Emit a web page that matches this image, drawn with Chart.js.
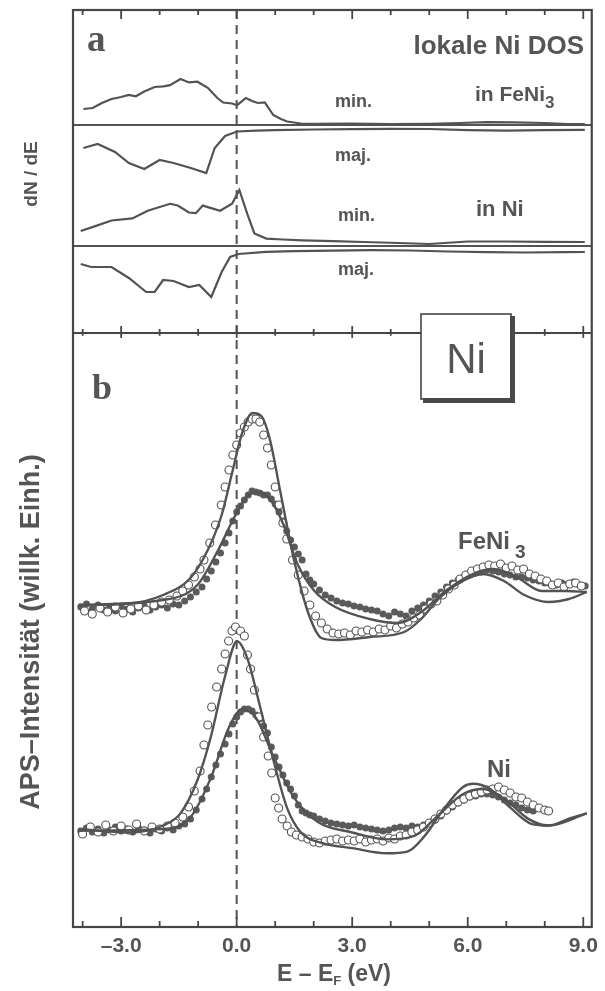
<!DOCTYPE html>
<html><head><meta charset="utf-8">
<script src="https://cdn.jsdelivr.net/npm/chart.js@4.4.0/dist/chart.umd.min.js"></script>
<style>html,body{margin:0;padding:0;background:#fff;}canvas{display:block;}</style>
</head><body>
<canvas id="c" width="605" height="991"></canvas>
<script>
// ---------- x axis ----------
const X_MIN = -4.25, X_MAX = 9.22;
const TICK_LABELS = [-3, 0, 3, 6, 9];
const TICK_MINOR = [-4, -2, -1, 1, 2, 4, 5, 7, 8];

// ---------- panel a : local Ni DOS (relative heights, arb. units) ----------
const aFeMinE = [-3.98,-3.74,-3.5,-3.25,-3.0,-2.8,-2.62,-2.4,-2.13,-1.9,-1.73,-1.46,-1.24,-1.02,-0.75,-0.5,-0.35,-0.12,0.01,0.24,0.4,0.55,0.73,0.95,1.15,1.31,1.67,2.0,3.0,4.0,5.0,5.8,6.5,7.2,8.0,8.6,9.04];
const aFeMinV = [16,17,22,26,28,30,28.7,33.5,38,38.7,39.8,46,42.6,43.3,37.2,27,22.5,21.5,19.8,27,24,22,22.5,10,6,3.5,1.5,1.2,1.5,1,1.2,2,2.8,2.6,2,1,1];
const aFeMajE = [-3.98,-3.61,-3.16,-2.8,-2.4,-2.0,-1.64,-1.19,-0.79,-0.57,-0.30,0.01,0.5,1.0,2.0,3.0,4.0,5.0,6.0,7.0,8.0,9.04];
const aFeMajV = [23,19,27,38,44,35,38,43,48,23,11,6.5,5.6,5.2,4.5,4.2,3.8,4,5.2,5.6,5.2,4.8];
const aNiMinE = [-4.05,-3.69,-3.25,-2.71,-2.31,-1.73,-1.53,-1.24,-1.06,-0.88,-0.43,-0.12,0.07,0.28,0.46,0.77,1.2,1.7,2.5,3.3,4.2,5.0,6.0,7.0,8.0,9.04];
const aNiMinV = [15,19.6,25.5,27.6,35.2,42.2,40.5,33.5,32.8,40.4,35.2,42.2,56,31.7,12.6,7.4,6.5,5.6,4.8,4,3,2,4.5,4.5,4.2,4];
const aNiMajE = [-4.05,-3.78,-3.25,-2.80,-2.35,-2.13,-1.91,-1.64,-1.24,-0.97,-0.66,-0.39,-0.17,0.05,0.76,1.5,2.5,3.5,4.5,5.5,6.5,7.5,8.5,9.04];
const aNiMajV = [18,21,21,32,46,46,34,35,41,39,51,26,11,8,5.8,5.2,4.6,4.2,4.5,5.5,6.2,6.5,6.2,6];

// ---------- panel b : APS spectra FeNi3 ----------
const bFeThOpenE = [-4.1,-2.8,-1.91,-1.2,-0.75,-0.39,-0.12,0.15,0.41,0.64,0.86,1.13,1.49,1.85,2.2,2.56,3.45,4.35,4.79,5.24,5.87,6.4,6.94,7.47,8.1,8.63,9.09];
const bFeThOpenV = [0,1.5,10,27,55,90,132,173,192,189,166,114,45,-7,-33,-35,-32,-27,-14,6,24,31,24,10,3,6,13];
const bFeThFillE = [-4.1,-1.91,-1.02,-0.48,-0.03,0.28,0.55,0.86,1.22,1.58,2.02,2.56,3.45,4.17,4.79,5.42,6.13,6.67,7.3,7.92,8.55,9.09];
const bFeThFillV = [0,5,20,55,90,109,113,106,80,41,14,-2,-14,-18,-7,14,31,36,27,14,14,13];
const bFeOpenE = [-3.95,-3.75,-3.55,-3.35,-3.15,-2.95,-2.75,-2.55,-2.35,-2.15,-1.95,-1.75,-1.55,-1.4,-1.25,-1.1,-0.95,-0.85,-0.7,-0.55,-0.4,-0.3,-0.2,-0.1,0.0,0.1,0.2,0.3,0.4,0.5,0.6,0.7,0.8,0.9,1.0,1.1,1.2,1.3,1.45,1.6,1.75,1.9,2.05,2.2,2.35,2.5,2.65,2.8,2.95,3.1,3.25,3.4,3.55,3.7,3.85,4.0,4.15,4.3,4.45,4.6,4.75,4.9,5.05,5.2,5.35,5.5,5.65,5.8,5.95,6.1,6.25,6.4,6.55,6.7,6.85,7.0,7.15,7.3,7.45,7.6,7.75,7.9,8.05,8.2,8.35,8.5,8.65,8.8,8.95];
const bFeOpenV = [-6,-9,-3,-7,-2,-8,-4,-1,-5,0,3,5,9,14,20,28,36,45,62,80,100,118,135,150,160,172,178,183,186,186,183,170,157,140,118,100,82,66,45,30,14,0,-11,-18,-24,-28,-29,-28,-30,-26,-27,-25,-27,-24,-25,-21,-23,-19,-17,-13,-10,-4,1,4,10,16,20,26,30,34,36,38,40,39,41,37,39,35,36,31,29,26,24,20,22,18,21,22,19];
const bFeFillE = [-4.05,-3.9,-3.75,-3.6,-3.45,-3.3,-3.15,-3.0,-2.85,-2.7,-2.55,-2.4,-2.25,-2.1,-1.95,-1.8,-1.65,-1.5,-1.35,-1.2,-1.05,-0.9,-0.78,-0.66,-0.54,-0.42,-0.3,-0.2,-0.1,0.0,0.1,0.2,0.3,0.4,0.5,0.6,0.7,0.8,0.9,1.0,1.1,1.2,1.3,1.4,1.5,1.6,1.7,1.8,1.9,2.0,2.15,2.3,2.45,2.6,2.75,2.9,3.05,3.2,3.35,3.5,3.65,3.8,3.95,4.1,4.25,4.4,4.55,4.7,4.85,5.0,5.15,5.3,5.45,5.6,5.75,5.9,6.05,6.2,6.35,6.5,6.65,6.8,6.95,7.1,7.25,7.4,7.55,7.7,7.85,8.0,8.15,8.3,8.45,8.6,8.75,8.9,9.05];
const bFeFillV = [-2,1,-4,0,-5,-2,-6,-1,-4,-7,-3,-1,-5,-2,0,-3,1,0,4,8,13,18,26,34,43,52,62,72,84,93,99,105,110,114,113,112,110,110,106,101,93,84,74,65,58,51,45,31,25,21,15,10,7,4,2,1,-1,-2,-4,-5,-6,-9,-11,-7,-9,-11,-6,-3,0,4,9,13,18,22,25,28,30,32,33,35,34,33,31,30,28,28,27,25,24,22,21,20,22,21,23,20,19];

// ---------- panel b : APS spectra Ni ----------
const bNiThOpenE = [-4.1,-2.8,-1.91,-1.46,-1.02,-0.66,-0.30,0.01,0.28,0.59,0.95,1.31,1.67,2.2,3.0,3.9,4.43,4.88,5.33,5.87,6.13,6.58,7.12,7.65,8.1,8.63,9.09];
const bNiThOpenV = [0,-3.5,3.5,15.6,48.7,93.8,153,187.7,170.3,125,69.5,20.9,-3.5,-13.9,-19.1,-24.3,-22.6,-7,17.4,41.7,45.2,40,20.9,5.2,3.5,10.4,15.6];
const bNiThFillE = [-4.1,-1.91,-1.19,-0.66,-0.21,0.15,0.50,0.95,1.49,2.11,3.0,3.9,4.61,5.24,5.87,6.4,7.03,7.56,8.1,9.09];
const bNiThFillV = [-1.7,0,12.2,52.1,100.8,119.9,111.2,73,31.3,7,-3.5,-10.4,-7,13.9,34.8,40,27.8,10.4,3.5,15.6];
const bNiOpenE = [-4.0,-3.8,-3.6,-3.4,-3.2,-3.0,-2.8,-2.6,-2.4,-2.2,-2.0,-1.8,-1.6,-1.4,-1.25,-1.1,-0.95,-0.85,-0.75,-0.65,-0.52,-0.39,-0.3,-0.21,-0.12,-0.03,0.1,0.2,0.28,0.36,0.46,0.58,0.7,0.82,0.91,1.0,1.09,1.18,1.31,1.42,1.55,1.7,1.85,2.0,2.15,2.3,2.45,2.6,2.75,2.9,3.05,3.2,3.35,3.5,3.65,3.8,3.95,4.1,4.25,4.4,4.55,4.7,4.85,5.0,5.15,5.3,5.45,5.6,5.75,5.9,6.05,6.2,6.35,6.5,6.65,6.8,6.95,7.1,7.25,7.4,7.55,7.7,7.85,8.0,8.1];
const bNiOpenV = [-5,2,-3,4,-2,3,-1,5,-2,2,0,3,6,12,22,38,58,84,104,122,142,160,175,188,198,202,198,193,174,160,139,112,92,73,56,31,21,10,3,-3,-6,-8,-10,-13,-14,-12,-11,-10,-12,-11,-12,-10,-13,-11,-10,-12,-9,-10,-7,-6,-3,-1,2,6,10,15,19,24,27,30,33,35,37,39,40,42,39,36,32,31,27,24,21,19,18];
const bNiFillE = [-4.05,-3.9,-3.75,-3.6,-3.45,-3.3,-3.15,-3.0,-2.85,-2.7,-2.55,-2.4,-2.25,-2.1,-1.95,-1.8,-1.65,-1.5,-1.35,-1.2,-1.05,-0.9,-0.78,-0.66,-0.54,-0.42,-0.3,-0.2,-0.1,0.0,0.1,0.2,0.3,0.4,0.5,0.6,0.7,0.8,0.9,1.0,1.1,1.2,1.3,1.4,1.5,1.6,1.7,1.8,1.9,2.0,2.15,2.3,2.45,2.6,2.75,2.9,3.05,3.2,3.35,3.5,3.65,3.8,3.95,4.1,4.25,4.4,4.55,4.7,4.85,5.0,5.15,5.3,5.45,5.6,5.75,5.9,6.05,6.2,6.35,6.5,6.65,6.8,6.95,7.1,7.25,7.4,7.55,7.7];
const bNiFillV = [-2,1,-3,0,-4,-1,2,-2,0,-3,1,-1,-4,0,-2,1,-1,3,5,10,19,30,40,52,64,75,85,95,105,112,117,120,120,118,114,110,103,96,82,72,62,54,46,40,33,24,18,16,14,13,10,8,6,5,4,3,4,2,1,0,-1,-2,-1,1,2,1,3,2,4,6,9,13,18,22,26,29,32,33,35,35,34,32,29,26,24,21,19,18];

// ---------- vertical placement of the stacked curves (value units) ----------
const OFF_A_FE = 802, OFF_A_NI = 681, SEP = 594, OFF_B_FE = 322, OFF_B_NI = 98;

const INK = '#535353', FRAME = '#464646', TXT = '#555555';
const SANS = '"Liberation Sans", Arial, Helvetica, sans-serif';
const SERIF = '"Liberation Serif", "Times New Roman", serif';

const xy = (E, V, off, s) => E.map((e, i) => ({x: e, y: off + s * V[i]}));
const curve = (data, extra) => Object.assign({type: 'line', data, borderColor: INK, borderWidth: 2.2, pointRadius: 0, fill: false, tension: 0, order: 1}, extra || {});
const smooth = {cubicInterpolationMode: 'monotone', borderWidth: 2.4};
const openPts = (data) => ({type: 'line', data, showLine: false, pointRadius: 4, pointBorderWidth: 1.1, pointBackgroundColor: '#ffffff', pointBorderColor: INK, order: 2});
const fillPts = (data) => ({type: 'line', data, showLine: false, pointRadius: 3.5, pointBorderWidth: 0, pointBackgroundColor: '#5b5b5b', pointBorderColor: '#5b5b5b', order: 3});

const datasets = [
  curve(xy(aFeMinE, aFeMinV, OFF_A_FE, 1)),
  curve(xy(aFeMajE, aFeMajV, OFF_A_FE, -1)),
  curve(xy(aNiMinE, aNiMinV, OFF_A_NI, 1)),
  curve(xy(aNiMajE, aNiMajV, OFF_A_NI, -1)),
  fillPts(xy(bFeFillE, bFeFillV, OFF_B_FE, 1)),
  openPts(xy(bFeOpenE, bFeOpenV, OFF_B_FE, 1)),
  curve(xy(bFeThOpenE, bFeThOpenV, OFF_B_FE, 1), smooth),
  curve(xy(bFeThFillE, bFeThFillV, OFF_B_FE, 1), smooth),
  fillPts(xy(bNiFillE, bNiFillV, OFF_B_NI, 1)),
  openPts(xy(bNiOpenE, bNiOpenV, OFF_B_NI, 1)),
  curve(xy(bNiThOpenE, bNiThOpenV, OFF_B_NI, 1), smooth),
  curve(xy(bNiThFillE, bNiThFillV, OFF_B_NI, 1), smooth)
];

function txt(ctx, s, x, y, font, align) {
  ctx.font = font; ctx.textAlign = align || 'left'; ctx.textBaseline = 'alphabetic';
  ctx.fillText(s, x, y);
  return ctx.measureText(s).width;
}
function txtSub(ctx, s, sub, x, y, size, subSize, dy, gap, weight) {
  const w = txt(ctx, s, x, y, weight + ' ' + size + 'px ' + SANS);
  txt(ctx, sub, x + w + gap, y + dy, weight + ' ' + subSize + 'px ' + SANS);
}

const deco = {
  id: 'deco',
  beforeDatasetsDraw(chart) {
    const {ctx, chartArea: ca, scales: {x, y}} = chart;
    ctx.save();
    ctx.strokeStyle = INK; ctx.lineWidth = 2;
    [OFF_A_FE, OFF_A_NI].forEach(v => {
      const py = y.getPixelForValue(v);
      ctx.beginPath(); ctx.moveTo(ca.left, py); ctx.lineTo(ca.right, py); ctx.stroke();
    });
    ctx.strokeStyle = FRAME;
    const ps = y.getPixelForValue(SEP);
    ctx.beginPath(); ctx.moveTo(ca.left, ps); ctx.lineTo(ca.right, ps); ctx.stroke();
    ctx.strokeStyle = INK; ctx.setLineDash([9, 6]); ctx.lineWidth = 2;
    const px0 = x.getPixelForValue(0);
    ctx.beginPath(); ctx.moveTo(px0, ca.top); ctx.lineTo(px0, ca.bottom); ctx.stroke();
    ctx.restore();
  },
  afterDatasetsDraw(chart) {
    const {ctx, chartArea: ca, scales: {x, y}} = chart;
    ctx.save();
    ctx.strokeStyle = FRAME; ctx.lineWidth = 2.2;
    ctx.strokeRect(ca.left, ca.top, ca.right - ca.left, ca.bottom - ca.top);
    const ps = y.getPixelForValue(SEP);
    ctx.lineWidth = 1.8;
    const tick = (v, up, down) => {
      const px = x.getPixelForValue(v);
      ctx.beginPath(); ctx.moveTo(px, ca.top); ctx.lineTo(px, ca.top + down); ctx.stroke();
      ctx.beginPath(); ctx.moveTo(px, ps - up); ctx.lineTo(px, ps + up * 0.7); ctx.stroke();
      ctx.beginPath(); ctx.moveTo(px, ca.bottom); ctx.lineTo(px, ca.bottom - down - 1); ctx.stroke();
    };
    TICK_LABELS.forEach(v => tick(v, 7, 9));
    TICK_MINOR.forEach(v => tick(v, 4, 5));
    // "Ni" box with shadow
    const bx = 421, by = 314, bw = 90, bh = 85;
    ctx.fillStyle = '#ffffff'; ctx.fillRect(bx, by, bw, bh);
    ctx.fillStyle = '#4a4a4a';
    ctx.fillRect(bx + bw - 1, by + 2, 5, bh + 2);
    ctx.fillRect(bx + 2, by + bh - 1, bw + 2, 5);
    ctx.strokeStyle = FRAME; ctx.lineWidth = 1.6;
    ctx.strokeRect(bx, by, bw, bh);
    ctx.fillStyle = TXT;
    txt(ctx, 'Ni', bx + bw / 2, by + 59, '42px ' + SANS, 'center');
    // panel letters
    txt(ctx, 'a', 87, 51, 'bold 37px ' + SERIF);
    txt(ctx, 'b', 92, 399, 'bold 36px ' + SERIF);
    // panel a labels
    txt(ctx, 'lokale Ni DOS', 584, 54, 'bold 26px ' + SANS, 'right');
    txtSub(ctx, 'in FeNi', '3', 475, 101, 21, 17, 7, 0, 'bold');
    txt(ctx, 'min.', 335, 107, 'bold 18px ' + SANS);
    txt(ctx, 'maj.', 335, 161, 'bold 18px ' + SANS);
    txt(ctx, 'min.', 338, 221, 'bold 18px ' + SANS);
    txt(ctx, 'in Ni', 476, 216, 'bold 22px ' + SANS);
    txt(ctx, 'maj.', 338, 275, 'bold 18px ' + SANS);
    // panel b labels
    txtSub(ctx, 'FeNi', '3', 458, 549, 24, 19, 9, 5, 'bold');
    txt(ctx, 'Ni', 487, 777, 'bold 24px ' + SANS);
    // y titles
    ctx.save(); ctx.translate(37, 174); ctx.rotate(-Math.PI / 2);
    txt(ctx, 'dN / dE', 0, 0, 'bold 19px ' + SANS, 'center'); ctx.restore();
    ctx.save(); ctx.translate(39, 632); ctx.rotate(-Math.PI / 2);
    txt(ctx, 'APS\u2013Intensit\u00e4t (willk. Einh.)', 0, 0, 'bold 27px ' + SANS, 'center'); ctx.restore();
    // x title  E – E_F (eV)
    const big = 'bold 23px ' + SANS, small = 'bold 13px ' + SANS;
    ctx.font = big;
    const p1 = 'E \u2013 E', p2 = 'F', p3 = ' (eV)';
    const w1 = ctx.measureText(p1).width, w3 = ctx.measureText(p3).width;
    ctx.font = small; const w2 = ctx.measureText(p2).width;
    let sx = 334 - (w1 + w2 + w3) / 2;
    txt(ctx, p1, sx, 981, big); sx += w1;
    txt(ctx, p2, sx, 985, small); sx += w2;
    txt(ctx, p3, sx, 981, big);
    ctx.restore();
  }
};

new Chart(document.getElementById('c'), {
  data: {datasets},
  options: {
    responsive: false, animation: false, events: [],
    layout: {padding: {left: 73, right: 8, top: 10, bottom: 0}},
    plugins: {legend: {display: false}, tooltip: {enabled: false}},
    scales: {
      x: {type: 'linear', min: X_MIN, max: X_MAX,
          grid: {display: false, drawTicks: false}, border: {display: false},
          afterFit: s => { s.height = 64; },
          afterBuildTicks: s => { s.ticks = TICK_LABELS.map(v => ({value: v})); },
          ticks: {padding: 7, color: TXT, font: {family: SANS, size: 21, weight: 'bold'},
                  maxRotation: 0, autoSkip: false,
                  callback: v => (v < 0 ? '\u2013' : '') + Math.abs(v).toFixed(1)}},
      y: {type: 'linear', min: 0, max: 917, display: false}
    }
  },
  plugins: [deco]
});
</script>
</body></html>
